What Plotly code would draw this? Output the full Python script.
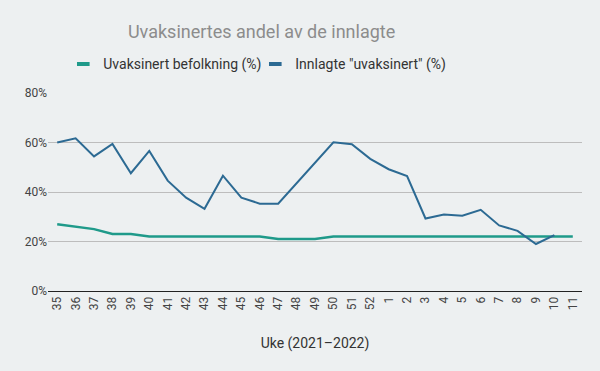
import plotly.graph_objects as go

weeks = ["35","36","37","38","39","40","41","42","43","44","45","46","47","48","49","50","51","52",
         "1","2","3","4","5","6","7","8","9","10","11"]
uvaksinert_befolkning = [27,26,25,23,23,22,22,22,22,22,22,22,21,21,21,22,22,22,
                         22,22,22,22,22,22,22,22,22,22,22]
innlagte_uvaksinert = [60.0,61.7,54.4,59.4,47.6,56.6,44.6,37.7,33.2,46.6,37.7,35.3,35.3,43.5,51.8,60.1,59.3,53.4,
                       49.2,46.4,29.3,30.9,30.4,32.8,26.5,24.3,19.0,22.6,None]
y_ticks = [0, 20, 40, 60, 80]
y_ticklabels = ["0%", "20%", "40%", "60%", "80%"]

green = "#1f9a8a"
blue = "#2c6a93"
names = ["Uvaksinert befolkning (%)", 'Innlagte "uvaksinert" (%)']

fig = go.Figure()
fig.add_trace(go.Scatter(x=weeks, y=uvaksinert_befolkning, mode="lines", name=names[0],
                         line=dict(color=green, width=2.5), showlegend=False))
fig.add_trace(go.Scatter(x=weeks, y=innlagte_uvaksinert, mode="lines", name=names[1],
                         line=dict(color=blue, width=2), showlegend=False))
for nm, col, ew in zip(names, [green, blue], [147, 150]):
    fig.add_trace(go.Scatter(x=[None], y=[None], mode="markers", name=nm, legendwidth=ew,
                             marker=dict(symbol="line-ew", size=9, line=dict(color=col, width=4))))

fig.update_layout(
    width=600, height=371,
    paper_bgcolor="#edf0f1", plot_bgcolor="#edf0f1",
    margin=dict(l=48, r=18, t=93, b=80),
    font=dict(family="Roboto", color="#333333"),
    title=dict(text="Uvaksinertes andel av de innlagte", x=0.436, xanchor="center",
               y=0.915, yanchor="middle", font=dict(size=18, color="#8c8c8c")),
    legend=dict(orientation="h", x=0.391, xanchor="center", y=1.145, yanchor="middle",
                font=dict(size=14, color="#333333"), bgcolor="rgba(0,0,0,0)",
                itemwidth=30, tracegroupgap=0),
    xaxis=dict(type="category", categoryorder="array", categoryarray=weeks,
               range=[-0.5, len(weeks) - 0.5],
               tickangle=-90, tickfont=dict(size=12, color="#444444"),
               showgrid=False, showline=True, linecolor="#222222", linewidth=1,
               ticks="", title=dict(text="Uke (2021–2022)", font=dict(size=14, color="#333333"), standoff=28)),
    yaxis=dict(range=[0, 80], tickmode="array", tickvals=y_ticks, ticktext=y_ticklabels,
               tickfont=dict(size=12, color="#444444"), showgrid=True, gridcolor="#bdbdbd",
               gridwidth=1, zeroline=False, ticks="", showline=False),
)
fig.write_html("out.html", post_script="document.body.style.margin='0';",
               config={"displayModeBar": False})
